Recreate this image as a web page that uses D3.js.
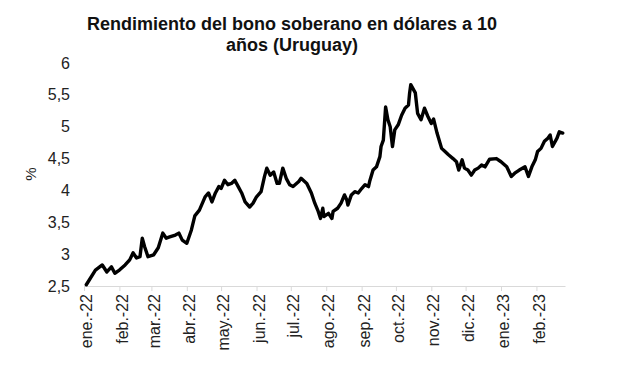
<!DOCTYPE html>
<html>
<head>
<meta charset="utf-8">
<script src="https://cdn.jsdelivr.net/npm/d3@7"></script>
<style>
  body { margin: 0; background: #fff; }
  svg { display: block; font-family: "Liberation Sans", Arial, sans-serif; }
</style>
</head>
<body>
<svg id="chart" width="617" height="374"></svg>
<script>
// yield of the 10y USD sovereign bond, Uruguay
const dates = [
  '2022-01-03', '2022-01-11', '2022-01-17', '2022-01-21', '2022-01-25', '2022-01-28',
  '2022-02-01', '2022-02-06', '2022-02-10', '2022-02-13', '2022-02-16', '2022-02-19',
  '2022-02-21', '2022-02-23', '2022-02-26', '2022-03-03', '2022-03-07', '2022-03-11',
  '2022-03-14', '2022-03-17', '2022-03-22', '2022-03-25', '2022-03-28', '2022-04-01',
  '2022-04-05', '2022-04-08', '2022-04-12', '2022-04-17', '2022-04-20', '2022-04-23',
  '2022-04-26', '2022-04-29', '2022-05-01', '2022-05-04', '2022-05-07', '2022-05-10',
  '2022-05-13', '2022-05-16', '2022-05-19', '2022-05-22', '2022-05-26', '2022-05-29',
  '2022-06-01', '2022-06-05', '2022-06-08', '2022-06-10', '2022-06-13', '2022-06-16',
  '2022-06-19', '2022-06-21', '2022-06-24', '2022-06-27', '2022-06-30', '2022-07-03',
  '2022-07-08', '2022-07-10', '2022-07-15', '2022-07-19', '2022-07-22', '2022-07-25',
  '2022-07-27', '2022-07-29', '2022-07-30', '2022-08-03', '2022-08-06', '2022-08-07',
  '2022-08-11', '2022-08-14', '2022-08-17', '2022-08-19', '2022-08-20', '2022-08-23',
  '2022-08-26', '2022-08-29', '2022-09-01', '2022-09-04', '2022-09-07', '2022-09-08',
  '2022-09-11', '2022-09-14', '2022-09-17', '2022-09-18', '2022-09-20', '2022-09-22',
  '2022-09-24', '2022-09-26', '2022-09-28', '2022-09-30', '2022-10-03', '2022-10-06',
  '2022-10-09', '2022-10-12', '2022-10-13', '2022-10-14', '2022-10-18', '2022-10-20',
  '2022-10-23', '2022-10-26', '2022-10-29', '2022-11-01', '2022-11-03', '2022-11-06',
  '2022-11-10', '2022-11-13', '2022-11-16', '2022-11-20', '2022-11-23', '2022-11-25',
  '2022-11-28', '2022-11-30', '2022-12-03', '2022-12-06', '2022-12-09', '2022-12-12',
  '2022-12-15', '2022-12-18', '2022-12-22', '2022-12-28', '2023-01-01', '2023-01-06',
  '2023-01-10', '2023-01-13', '2023-01-17', '2023-01-22', '2023-01-25', '2023-01-28',
  '2023-01-31', '2023-02-02', '2023-02-05', '2023-02-08', '2023-02-11', '2023-02-13',
  '2023-02-15', '2023-02-19', '2023-02-21', '2023-02-24'
]
const yields = [
  2.52, 2.75, 2.83, 2.72, 2.80, 2.70,
  2.75, 2.83, 2.91, 3.02, 2.94, 2.96,
  3.25, 3.12, 2.96, 2.99, 3.10, 3.33,
  3.25, 3.27, 3.30, 3.33, 3.22, 3.17,
  3.38, 3.60, 3.69, 3.90, 3.96, 3.82,
  3.96, 4.06, 4.03, 4.16, 4.09, 4.11,
  4.16, 4.06, 3.96, 3.82, 3.74, 3.80,
  3.90, 3.98, 4.22, 4.35, 4.24, 4.29,
  4.11, 4.11, 4.35, 4.19, 4.09, 4.06,
  4.14, 4.19, 4.11, 3.96, 3.80, 3.67,
  3.56, 3.72, 3.59, 3.64, 3.56, 3.67,
  3.72, 3.80, 3.93, 3.85, 3.77, 3.93,
  3.98, 3.96, 4.03, 4.09, 4.06, 4.14,
  4.32, 4.37, 4.53, 4.69, 4.79, 5.31,
  5.11, 5.00, 4.69, 4.95, 5.03, 5.18,
  5.29, 5.34, 5.53, 5.66, 5.53, 5.21,
  5.11, 5.29, 5.16, 5.05, 5.12, 4.90,
  4.66, 4.61, 4.56, 4.50, 4.45, 4.32,
  4.48, 4.35, 4.32, 4.24, 4.32, 4.35,
  4.40, 4.37, 4.49, 4.50, 4.45, 4.37,
  4.22, 4.27, 4.32, 4.37, 4.22, 4.37,
  4.48, 4.61, 4.66, 4.77, 4.82, 4.87,
  4.69, 4.82, 4.92, 4.90
]
const monthLabels = [
  'ene.-22', 'feb.-22', 'mar.-22', 'abr.-22', 'may.-22', 'jun.-22', 'jul.-22',
  'ago.-22', 'sep.-22', 'oct.-22', 'nov.-22', 'dic.-22', 'ene.-23', 'feb.-23'
]
const yTicks = [2.5, 3, 3.5, 4, 4.5, 5, 5.5, 6]
const titleLines = ['Rendimiento del bono soberano en dólares a 10', 'años (Uruguay)']

const parse = d3.timeParse('%Y-%m-%d')
const data = dates.map((d, i) => ({ date: parse(d), value: yields[i] }))

const plotLeft = 84
const plotRight = 565
const plotTop = 63
const plotBottom = 286
const titleX = 292

const svg = d3.select('#chart')

const x = d3.scaleTime()
  .domain([parse('2022-01-01'), parse('2023-02-26')])
  .range([plotLeft, plotRight])
const y = d3.scaleLinear().domain([2.5, 6]).range([plotBottom, plotTop])

const monthTicks = d3.timeMonth.range(parse('2022-01-01'), parse('2023-02-02'))

// title
svg.append('text')
  .attr('x', titleX)
  .attr('y', 30)
  .attr('text-anchor', 'middle')
  .style('font-size', '18px')
  .style('font-weight', 'bold')
  .attr('fill', '#111')
  .selectAll('tspan')
  .data(titleLines)
  .join('tspan')
  .attr('x', titleX)
  .attr('dy', (d, i) => (i === 0 ? 0 : 21))
  .text(d => d)

// x axis
const xAxis = d3.axisBottom(x)
  .tickValues(monthTicks)
  .tickSize(5)
  .tickSizeOuter(0)
  .tickFormat((d, i) => monthLabels[i])

const gx = svg.append('g')
  .attr('transform', `translate(0, ${plotBottom})`)
  .call(xAxis)

gx.select('.domain').attr('stroke', '#d9d9d9').attr('stroke-width', 1)
gx.selectAll('.tick line').attr('stroke', '#d9d9d9')
gx.selectAll('.tick text')
  .attr('transform', 'translate(2, 0) rotate(-90)')
  .attr('text-anchor', 'end')
  .attr('x', -8)
  .attr('y', 0)
  .attr('dy', '0.35em')
  .style('font-size', '16px')
  .style('font-family', '"Liberation Sans", Arial, sans-serif')
  .attr('fill', '#222')

// y axis, only labels
const yAxis = d3.axisLeft(y)
  .tickValues(yTicks)
  .tickSize(0)
  .tickPadding(14)
  .tickFormat(d => String(d).replace('.', ','))

const gy = svg.append('g')
  .attr('transform', `translate(${plotLeft}, 0)`)
  .call(yAxis)

gy.select('.domain').remove()
gy.selectAll('.tick text')
  .style('font-size', '16px')
  .style('font-family', '"Liberation Sans", Arial, sans-serif')
  .attr('fill', '#222')

svg.append('text')
  .attr('transform', 'translate(36, 174) rotate(-90)')
  .attr('text-anchor', 'middle')
  .style('font-size', '15px')
  .attr('fill', '#222')
  .text('%')

// the line
const line = d3.line()
  .x(d => x(d.date))
  .y(d => y(d.value))

svg.append('path')
  .datum(data)
  .attr('fill', 'none')
  .attr('stroke', '#000')
  .attr('stroke-width', 3.4)
  .attr('stroke-linejoin', 'round')
  .attr('stroke-linecap', 'round')
  .attr('d', line)
</script>
</body>
</html>
